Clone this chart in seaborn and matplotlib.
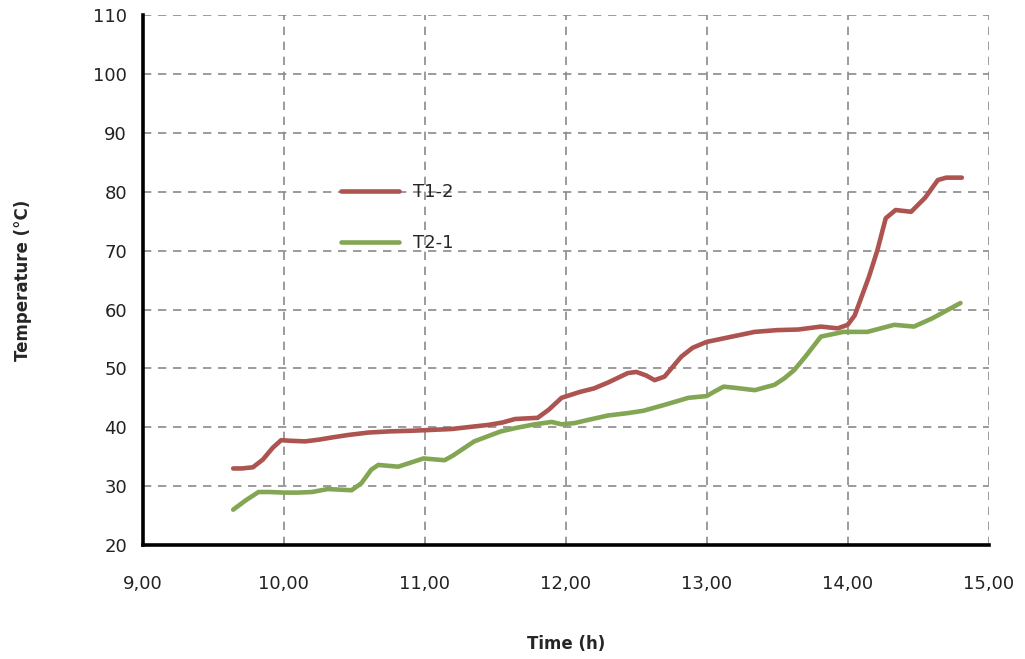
#!/usr/bin/env python3
import matplotlib
matplotlib.use("Agg")
import matplotlib.pyplot as plt
import matplotlib.ticker as mticker
import pandas as pd
import seaborn as sns

# T1-2 (red) readings
time_t12 = [9.64, 9.70, 9.78, 9.85, 9.92, 9.98, 10.05, 10.15, 10.25, 10.35, 10.46, 10.60,
            10.75, 10.90, 11.00, 11.19, 11.30, 11.45, 11.55, 11.64, 11.80, 11.88, 11.97,
            12.10, 12.20, 12.30, 12.44, 12.50, 12.57, 12.63, 12.70, 12.82, 12.90, 13.00,
            13.10, 13.20, 13.34, 13.50, 13.65, 13.81, 13.93, 14.00, 14.05, 14.09, 14.15,
            14.21, 14.27, 14.34, 14.45, 14.55, 14.64, 14.70, 14.81]
temp_t12 = [33.0, 33.0, 33.2, 34.5, 36.5, 37.8, 37.7, 37.6, 37.9, 38.3, 38.7, 39.1,
            39.3, 39.4, 39.5, 39.7, 40.0, 40.4, 40.8, 41.4, 41.6, 43.0, 45.0,
            46.0, 46.6, 47.6, 49.2, 49.4, 48.8, 48.0, 48.6, 52.0, 53.5, 54.5,
            55.0, 55.5, 56.2, 56.5, 56.6, 57.1, 56.8, 57.4, 59.0, 61.6, 65.5,
            70.0, 75.5, 76.9, 76.6, 79.0, 82.0, 82.4, 82.4]

# T2-1 (green) readings
time_t21 = [9.64, 9.73, 9.82, 9.90, 10.00, 10.10, 10.20, 10.31, 10.40, 10.48, 10.55, 10.62,
            10.67, 10.81, 10.90, 10.99, 11.14, 11.20, 11.35, 11.45, 11.54, 11.65, 11.78,
            11.90, 11.97, 12.06, 12.15, 12.30, 12.44, 12.55, 12.70, 12.87, 13.00, 13.05,
            13.12, 13.20, 13.34, 13.48, 13.55, 13.62, 13.70, 13.81, 13.97, 14.14, 14.33,
            14.47, 14.60, 14.70, 14.80]
temp_t21 = [26.0, 27.6, 29.0, 29.0, 28.9, 28.9, 29.0, 29.5, 29.4, 29.3, 30.5, 32.8,
            33.6, 33.3, 34.0, 34.7, 34.4, 35.2, 37.6, 38.5, 39.3, 39.9, 40.5,
            40.9, 40.5, 40.7, 41.2, 42.0, 42.4, 42.8, 43.8, 45.0, 45.3, 46.0,
            46.9, 46.7, 46.3, 47.2, 48.3, 49.7, 52.0, 55.4, 56.2, 56.2, 57.4,
            57.1, 58.5, 59.8, 61.1]

df = pd.concat([
    pd.DataFrame({"time": time_t12, "temp": temp_t12, "series": "T1-2"}),
    pd.DataFrame({"time": time_t21, "temp": temp_t21, "series": "T2-1"}),
])

sns.set_style("white")
plt.rcParams["font.family"] = ["DejaVu Sans"]

fig = plt.figure(figsize=(10.25, 6.59), dpi=100)
ax = fig.add_axes([0.1395, 0.173, 0.825, 0.804])

sns.lineplot(data=df, x="time", y="temp", hue="series", sort=False,
             palette={"T1-2": "#ad5451", "T2-1": "#83a654"},
             linewidth=3.3, ax=ax)

ax.set_xlim(9, 15)
ax.set_ylim(20, 110)
ax.xaxis.set_major_locator(mticker.MultipleLocator(1))
ax.yaxis.set_major_locator(mticker.MultipleLocator(10))
ax.xaxis.set_major_formatter(mticker.FuncFormatter(lambda v, p: f"{v:.2f}".replace(".", ",")))

ax.grid(True, color="#8a8a8a", linestyle=(0, (5, 4)), linewidth=1.2)
for s in ["top", "right"]:
    ax.spines[s].set_visible(False)
for s in ["left", "bottom"]:
    ax.spines[s].set_linewidth(2.6)
    ax.spines[s].set_color("black")

ax.tick_params(axis="both", direction="inout", length=7, width=2, colors="black",
               labelsize=13, labelcolor="#222222")
ax.tick_params(axis="x", pad=18)
ax.tick_params(axis="y", pad=8)

ax.set_xlabel("Time (h)", fontsize=12, fontweight="bold", labelpad=30)
ax.set_ylabel("Temperature (°C)", fontsize=12, fontweight="bold", labelpad=44)

ax.legend(title=None, frameon=False, fontsize=13, loc="upper left",
          bbox_to_anchor=(0.215, 0.713), handlelength=3.2, labelspacing=1.8)

fig.savefig("out.png", dpi=100)
